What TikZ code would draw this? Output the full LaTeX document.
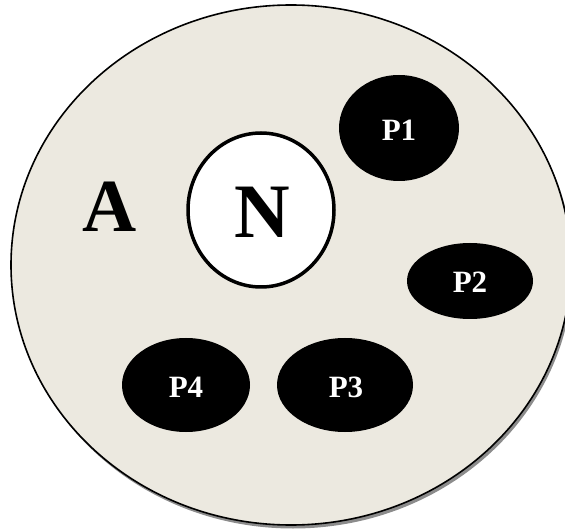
\documentclass[tikz,border=0pt]{standalone}
\usepackage{fontspec}
\setmainfont{Liberation Serif}
\definecolor{cellfill}{RGB}{236,233,224}
\definecolor{shadowgray}{RGB}{140,140,140}
\begin{document}
\begin{tikzpicture}[x=1pt,y=-1pt,
  pblob/.style={fill=black,draw=none},
  plabel/.style={text=white,font=\bfseries\fontsize{31}{31}\selectfont},
]
\useasboundingbox (0,0) rectangle (565,529);
\begin{scope}
\clip (0,0) rectangle (565,529);
% shadow
\fill[shadowgray] (293,268.5) ellipse [x radius=280, y radius=260];
% cell
\draw[fill=cellfill,line width=1.6pt] (291,265) ellipse [x radius=280, y radius=260];
\end{scope}
\coordinate (cell) at (291,265);
% nucleus
\draw[fill=white,line width=3.5pt] (261,210) ellipse [x radius=73, y radius=77];
\node[font=\bfseries\fontsize{77}{77}\selectfont] (N) at (262,212) {N};
\node[font=\bfseries\fontsize{75}{75}\selectfont] (A) at (110,207) {A};
% P blobs
\fill[pblob] (399,128) ellipse [x radius=60, y radius=53];
\node[plabel] (P1) at (399,130) {P1};
\fill[pblob] (470,281) ellipse [x radius=63, y radius=38];
\node[plabel] (P2) at (470,282) {P2};
\fill[pblob] (345,385) ellipse [x radius=68, y radius=47];
\node[plabel] (P3) at (346,387) {P3};
\fill[pblob] (186,385) ellipse [x radius=64, y radius=47];
\node[plabel] (P4) at (186,387) {P4};
\end{tikzpicture}
\end{document}
